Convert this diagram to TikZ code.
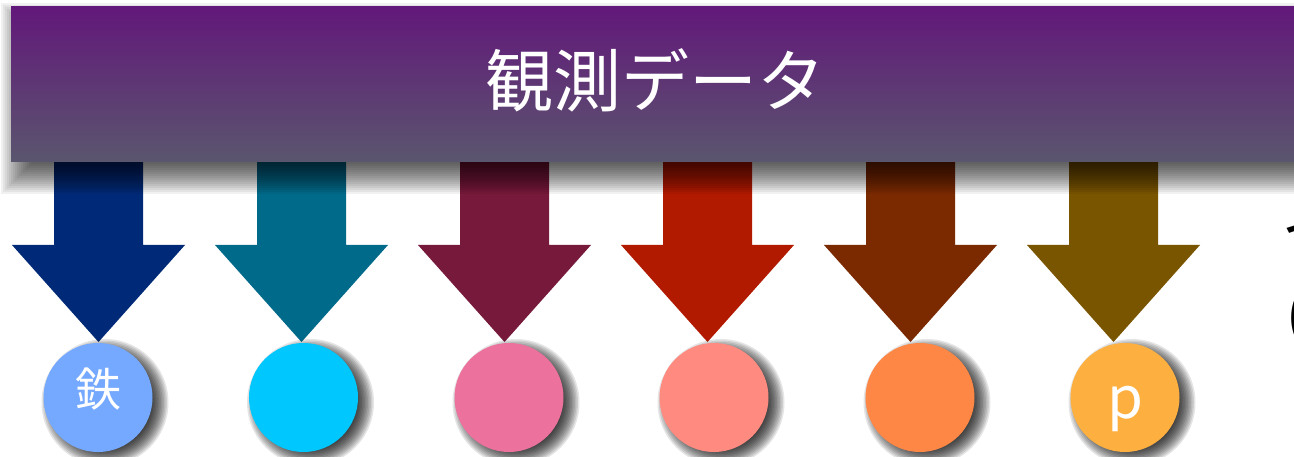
\documentclass[tikz,border=0pt]{standalone}
\usepackage{fontspec}
\newfontfamily\cjk{Noto Sans CJK JP}
\definecolor{bantop}{HTML}{62187A}
\definecolor{banbot}{HTML}{5A566E}
\definecolor{ar1}{HTML}{002A77}
\definecolor{ar2}{HTML}{006A8A}
\definecolor{ar3}{HTML}{77193A}
\definecolor{ar4}{HTML}{B21A00}
\definecolor{ar5}{HTML}{7B2A00}
\definecolor{ar6}{HTML}{7A5500}
\definecolor{dc1}{HTML}{75A9FF}
\definecolor{dc2}{HTML}{00C8FF}
\definecolor{dc3}{HTML}{EC719D}
\definecolor{dc4}{HTML}{FF8A80}
\definecolor{dc5}{HTML}{FF8745}
\definecolor{dc6}{HTML}{FDB040}
\tikzset{
  banner/.style={rectangle, inner sep=0pt, minimum width=1310pt, minimum height=155pt,
    top color=bantop, bottom color=banbot, draw=none},
  bannertext/.style={inner sep=0pt, text=white, font=\cjk\fontsize{68}{76}\selectfont},
  dot/.style={circle, inner sep=0pt, minimum size=109pt, draw=none, text=white},
  dottext/.style={font=\cjk\fontsize{46}{50}\selectfont},
  ptext/.style={inner sep=0pt, font=\cjk\fontsize{58}{62}\selectfont},
  bigarrow/.style={draw=none},
  shadowlayer/.style={fill=black, fill opacity=#1, draw=none},
  sidetext/.style={inner sep=0pt, text=black, font=\cjk\fontsize{64}{70}\selectfont}
}
\begin{document}
\begin{tikzpicture}[x=1pt,y=-1pt]
\useasboundingbox (0,0) rectangle (1294,457);
\clip (0,0) rectangle (1294,457);
\fill[white] (0,0) rectangle (1294,457);

% arrow tips
\foreach \i in {0,...,5} {
  \coordinate (t\i) at ({98.5+203*\i},342);
}
% arrows
\foreach \i/\c in {0/ar1,1/ar2,2/ar3,3/ar4,4/ar5,5/ar6} {
  \fill[bigarrow, \c, shift={(t\i)}] (-44.5,-192) -- (44.5,-192) -- (44.5,-97) -- (86.5,-97)
     -- (0,0) -- (-86.5,-97) -- (-44.5,-97) -- cycle;
}

% banner shadow (soft, layered)
\foreach \k in {0,...,17} {
  \pgfmathsetmacro\e{-18+2*\k}
  \fill[shadowlayer=0.055] ({17-\e},{19-\e}) rectangle ({1320+\e},{178+\e});
}

% banner
\node[banner] (obs) at (666,84.5) {};
\node[bannertext] (obst) at (655,80) {観測データ};

% circle shadows
\foreach \x in {98,303.5,509,714,920,1125} {
  \foreach \k in {0,...,12} {
    \fill[shadowlayer=0.1] ({\x+7},402.5) circle ({45.5+1.5*\k});
  }
}

% circles
\node[dot, fill=dc1] (d1) at (98,397.5) {};
\node[dot, fill=dc2] (d2) at (303.5,397.5) {};
\node[dot, fill=dc3] (d3) at (509,397.5) {};
\node[dot, fill=dc4] (d4) at (714,397.5) {};
\node[dot, fill=dc5] (d5) at (920,397.5) {};
\node[dot, fill=dc6] (d6) at (1125,397.5) {};
\node[dottext, text=white] (l1) at (98,389) {鉄};
\node[ptext, text=white, anchor=base] (l6) at (1125,418) {p};

% clipped side text
\node[sidetext, anchor=base west] (s1) at (1281,252) {イ};
\node[sidetext, anchor=base west, font=\cjk\fontsize{56}{60}\selectfont] (s2) at (1286,335) {(};
\end{tikzpicture}
\end{document}
